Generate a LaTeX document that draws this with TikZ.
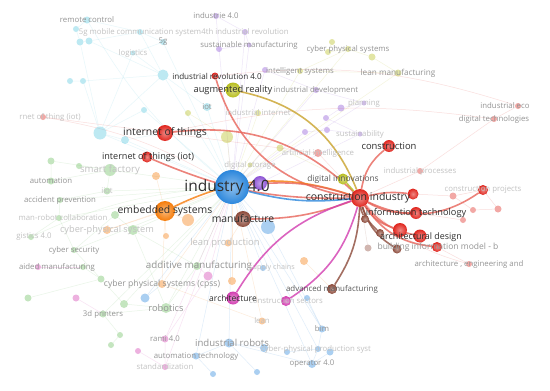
\documentclass[tikz,border=0pt]{standalone}
\usepackage{fontspec}
\setmainfont{Open Sans}
\usetikzlibrary{backgrounds}
\definecolor{vred}{HTML}{E0261E}
\definecolor{vredl}{HTML}{E8645A}
\definecolor{vblue}{HTML}{2C87DC}
\definecolor{vbluel}{HTML}{8DB8E0}
\definecolor{vpurple}{HTML}{8E55D6}
\definecolor{vorange}{HTML}{F57C0A}
\definecolor{vbrown}{HTML}{8C4A3A}
\definecolor{vpink}{HTML}{D23CB0}
\definecolor{vpinkl}{HTML}{EDA3D8}
\definecolor{vgreen}{HTML}{6DBE5F}
\definecolor{vyellow}{HTML}{B8BE1E}
\definecolor{vgold}{HTML}{C9A22A}
\definecolor{vcyan}{HTML}{5CC8E0}
\tikzset{
  kw/.style 2 args={circle, inner sep=0pt, minimum size=#2, fill=#1},
  kwf/.style 2 args={circle, inner sep=0pt, minimum size=#2, fill=#1, fill opacity=0.4},
  hub/.style 2 args={circle, inner sep=0pt, minimum size=#2, inner color=#1!55!white, outer color=#1},
  tx/.style={font=\fontsize{#1}{#1}\selectfont},
  lbldark/.style={text=black!82, inner sep=0pt},
  lblmid/.style={text=black!42, inner sep=0pt},
  lbllight/.style={text=black!24, inner sep=0pt},
  hot/.style={draw=#1, line width=1.6pt, draw opacity=0.8},
  web/.style={draw=#1, line width=0.5pt, draw opacity=0.15}
}
\begin{document}
\begin{tikzpicture}[x=1pt, y=-1pt]
\useasboundingbox (0,0) rectangle (550,391);

%% cyan cluster
\node[kwf={vcyan}{7}] (remc) at (87,20) {};
\node[kwf={vcyan}{6}] (cy1) at (76,29) {};
\node[kwf={vcyan}{7}] (cy2) at (80,42) {};
\node[kwf={vcyan}{7}] (cy3) at (89,41) {};
\node[kwf={vcyan}{6}] (mob5g) at (140,32) {};
\node[kwf={vcyan}{6}] (g5) at (163,42) {};
\node[kwf={vcyan}{5}] (logis) at (133,53) {};
\node[kwf={vcyan}{11}] (cy4) at (163,75) {};
\node[kwf={vcyan}{6}] (cy5) at (70,81) {};
\node[kwf={vcyan}{6}] (cy6) at (83,81) {};
\node[kwf={vcyan}{8}] (iotc) at (207,107) {};
\node[kwf={vcyan}{6}] (cy7) at (144,110) {};
\node[kwf={vcyan}{13}] (cy8) at (100,133) {};
\node[kwf={vcyan}{8}] (cy9) at (125,140) {};

%% purple cluster
\node[kwf={vpurple}{6}] (ie40) at (216,16) {};
\node[kwf={vpurple}{6}] (rev4) at (245,32) {};
\node[kwf={vpurple}{5}] (susm) at (249,45) {};
\node[kwf={vpurple}{6}] (pu1) at (219,49) {};
\node[kwf={vpurple}{6}] (pu2) at (265,70) {};
\node[kwf={vpurple}{6}] (inddev) at (316,90) {};
\node[kwf={vpurple}{5}] (plan) at (364,103) {};
\node[kwf={vpurple}{7}] (pu3) at (341,108) {};
\node[kwf={vpurple}{6}] (pu4) at (326,118) {};
\node[kwf={vpurple}{6}] (pu5) at (305,132) {};
\node[kwf={vpurple}{6}] (pu6) at (327,130) {};
\node[kwf={vpurple}{5}] (sust) at (360,134) {};

%% yellow cluster
\node[kwf={vyellow}{6}] (ye1) at (332,42) {};
\node[kwf={vyellow}{6}] (ye2) at (328,52) {};
\node[kwf={vyellow}{6}] (cpsy) at (348,49) {};
\node[kwf={vyellow}{7}] (ye3) at (372,57) {};
\node[kwf={vyellow}{6}] (intsys) at (300,71) {};
\node[kwf={vyellow}{7}] (leanm) at (398,73) {};
\node[kwf={vyellow}{6}] (indint) at (258,113) {};
\node[kwf={vyellow}{6}] (ye4) at (188,113) {};
\node[kwf={vyellow}{12}] (ye5) at (227,137) {};
\node[kwf={vyellow}{7}] (ye6) at (280,148) {};
\node[kwf={vyellow}{5}] (digsto) at (250,165) {};

%% green cluster
\node[kwf={vgreen}{12}] (smartf) at (110,170) {};
\node[kwf={vgreen}{7}] (gr1) at (51,161) {};
\node[kwf={vgreen}{6}] (gr2) at (79,166) {};
\node[kwf={vgreen}{7}] (autom) at (51,181) {};
\node[kwf={vgreen}{7}] (iiot) at (107,191) {};
\node[kwf={vgreen}{6}] (accp) at (60,200) {};
\node[kwf={vgreen}{6}] (hrc) at (59,218) {};
\node[kwf={vgreen}{8}] (gr3) at (115,215) {};
\node[kwf={vgreen}{10}] (gr4) at (133,230) {};
\node[kwf={vgreen}{6}] (log40) at (31,237) {};
\node[kwf={vgreen}{6}] (cybsec) at (74,250) {};
\node[kwf={vgreen}{6}] (gr5) at (83,267) {};
\node[kwf={vgreen}{8}] (addm) at (197,266) {};
\node[kwf={vgreen}{7}] (gr6) at (101,279) {};
\node[kwf={vgreen}{7}] (gr7) at (28,298) {};
\node[kwf={vgreen}{8}] (gr8) at (124,304) {};
\node[kwf={vgreen}{10}] (robo) at (166,308) {};
\node[kwf={vgreen}{7}] (print3d) at (103,314) {};
\node[kwf={vgreen}{6}] (gr9) at (120,335) {};
\node[kwf={vgreen}{6}] (gr10) at (111,345) {};

%% orange cluster
\node[kwf={vorange}{8}] (cpsys) at (107,230) {};
\node[kwf={vorange}{12}] (or1) at (188,220) {};
\node[kwf={vorange}{8}] (or2) at (156,176) {};
\node[kwf={vorange}{6}] (or3) at (166,236) {};
\node[kwf={vorange}{8}] (cpss) at (162,284) {};
\node[kwf={vorange}{7}] (leanp) at (228,243) {};
\node[kwf={vorange}{8}] (or4) at (232,281) {};
\node[kwf={vorange}{8}] (or5) at (304,261) {};
\node[kwf={vorange}{7}] (lean) at (262,321) {};

%% pink cluster
\node[kwf={vpink}{6}] (aidm) at (38,267) {};
\node[kwf={vpink}{9}] (pk1) at (208,276) {};
\node[kwf={vpink}{7}] (pk2) at (76,298) {};
\node[kwf={vpink}{7}] (rami) at (165,339) {};
\node[kwf={vpink}{6}] (pk3) at (138,351) {};
\node[kwf={vpink}{6}] (stand) at (165,367) {};

%% blue cluster
\node[kwf={vblue}{14}] (bl1) at (268,227) {};
\node[kwf={vblue}{9}] (bl2) at (145,298) {};
\node[kwf={vblue}{6}] (bl3) at (307,298) {};
\node[kwf={vblue}{6}] (supch) at (263,268) {};
\node[kwf={vblue}{9}] (indrob) at (229,343) {};
\node[kwf={vblue}{8}] (bl4) at (264,348) {};
\node[kwf={vblue}{7}] (autech) at (196,356) {};
\node[kwf={vblue}{6}] (bl5) at (213,374) {};
\node[kwf={vblue}{6}] (bl6) at (257,372) {};
\node[kwf={vblue}{7}] (bim) at (322,329) {};
\node[kwf={vblue}{6}] (cpps) at (318,349) {};
\node[kwf={vblue}{7}] (bl7) at (330,352) {};
\node[kwf={vblue}{6}] (bl8) at (287,352) {};
\node[kwf={vblue}{8}] (op40) at (312,364) {};

%% red cluster, faint part
\node[kwf={vred}{6}] (rnet) at (43,117) {};
\node[kwf={vred}{8}] (artint) at (318,153) {};
\node[kwf={vred}{6}] (indpro) at (420,171) {};
\node[kwf={vred}{6}] (digtec) at (494,119) {};
\node[kwf={vred}{6}] (indeco) at (518,106) {};
\node[kwf={vred}{7}] (rl1) at (453,196) {};
\node[kwf={vred}{6}] (rl2) at (473,210) {};
\node[kwf={vred}{7}] (rl3) at (498,209) {};
\node[kwf={vred}{6}] (rl4) at (463,220) {};
\node[kwf={vred}{6}] (aeng) at (469,264) {};
\node[kwf={vbrown}{7}] (br4) at (368,248) {};

%% highlighted keywords
\node[hub={vred}{16}] (iott) at (165,133) {};
\node[hub={vred}{11}] (iotiot) at (147,157) {};
\node[hub={vred}{7}] (ir40) at (215,76) {};
\node[hub={vyellow}{15}] (augr) at (233,90) {};
\node[hub={vorange}{20}] (emb) at (165,211) {};
\node[hub={vblue}{34}] (ind40) at (232,187) {};
\node[hub={vpurple}{14}] (pu7) at (260,183) {};
\node[hub={vbrown}{16}] (manu) at (243,219) {};
\node[hub={vyellow}{11}] (diginn) at (343,179) {};
\node[hub={vred}{12}] (constr) at (389,146) {};
\node[hub={vred}{18}] (ci) at (360,198) {};
\node[hub={vred}{11}] (rd1) at (413,194) {};
\node[hub={vred}{10}] (cproj) at (483,190) {};
\node[hub={vred}{12}] (infot) at (416,213) {};
\node[hub={vred}{14}] (rd2) at (400,230) {};
\node[hub={vred}{13}] (archd) at (420,236) {};
\node[hub={vred}{10}] (bimb) at (437,247) {};
\node[hub={vbrown}{8}] (br1) at (365,219) {};
\node[hub={vbrown}{8}] (br2) at (380,233) {};
\node[hub={vbrown}{9}] (br3) at (397,249) {};
\node[hub={vbrown}{10}] (advm) at (332,289) {};
\node[hub={vpink}{13}] (arch) at (233,298) {};
\node[hub={vpink}{10}] (consec) at (286,301) {};

\begin{scope}[on background layer]
\fill[white] (0,0) rectangle (550,391);

% background links
\draw[web=vcyan] (remc) -- (cy1) -- (cy2) -- (cy3) -- (mob5g) -- (g5);
\draw[web=vcyan] (remc) -- (mob5g);
\draw[web=vcyan] (g5) -- (logis) -- (cy4) -- (iotc);
\draw[web=vcyan] (cy3) -- (cy4) -- (cy8) -- (cy9) -- (iott);
\draw[web=vcyan] (cy7) -- (cy8) -- (cy6) -- (cy5);
\draw[web=vcyan] (cy2) -- (cy8);
\draw[web=vcyan] (cy6) -- (cy4);
\draw[web=vcyan] (mob5g) -- (cy4);
\draw[web=vcyan] (logis) -- (cy8);
\draw[web=vcyan] (iotc) -- (ind40);
\draw[web=vcyan] (cy4) -- (ind40);
\draw[web=vcyan] (cy8) -- (ind40);
\draw[web=vcyan] (cy9) -- (ind40);
\draw[web=vcyan] (cy7) -- (ind40);
\draw[web=vcyan] (remc) to[bend right=10] (ind40);
\draw[web=vcyan] (g5) -- (ind40);
\draw[web=vgreen] (smartf) -- (gr1) -- (autom) -- (smartf) -- (gr2);
\draw[web=vgreen] (smartf) -- (iiot) -- (accp) -- (hrc) -- (log40);
\draw[web=vgreen] (hrc) -- (cybsec) -- (gr3) -- (gr4) -- (addm) -- (robo);
\draw[web=vgreen] (robo) -- (print3d) -- (gr9) -- (gr10);
\draw[web=vgreen] (robo) -- (gr8) -- (gr6) -- (cybsec);
\draw[web=vgreen] (gr4) -- (robo);
\draw[web=vgreen] (gr5) -- (gr6);
\draw[web=vgreen] (gr7) -- (gr6);
\draw[web=vgreen] (smartf) -- (ind40);
\draw[web=vgreen] (iiot) -- (ind40);
\draw[web=vgreen] (accp) -- (ind40);
\draw[web=vgreen] (hrc) -- (ind40);
\draw[web=vgreen] (cybsec) -- (ind40);
\draw[web=vgreen] (robo) -- (ind40);
\draw[web=vgreen] (addm) -- (ind40);
\draw[web=vgreen] (gr4) -- (ind40);
\draw[web=vgreen] (log40) to[bend left=10] (ind40);
\draw[web=vgreen] (print3d) -- (ind40);
\draw[web=vgreen] (gr8) -- (ind40);
\draw[web=vpurple] (ie40) -- (rev4) -- (susm) -- (pu1);
\draw[web=vpurple] (pu2) -- (inddev) -- (plan) -- (pu3) -- (pu4) -- (sust);
\draw[web=vpurple] (pu5) -- (pu6) -- (sust) -- (pu7);
\draw[web=vpurple] (rev4) -- (ind40);
\draw[web=vpurple] (ie40) -- (ind40);
\draw[web=vpurple] (susm) -- (ind40);
\draw[web=vpurple] (pu2) -- (ind40);
\draw[web=vpurple] (inddev) -- (ind40);
\draw[web=vpurple] (plan) -- (ind40);
\draw[web=vpurple] (pu5) -- (ind40);
\draw[web=vyellow] (ye1) -- (ye2) -- (cpsy) -- (ye3);
\draw[web=vyellow] (cpsy) -- (intsys) -- (leanm) -- (ye3);
\draw[web=vyellow] (intsys) -- (ind40);
\draw[web=vyellow] (cpsy) -- (ind40);
\draw[web=vyellow] (leanm) -- (ind40);
\draw[web=vyellow] (ye4) -- (ye5) -- (ind40);
\draw[web=vyellow] (indint) -- (ind40);
\draw[web=vyellow] (ye6) -- (diginn);
\draw[web=vyellow] (ye6) -- (ind40);
\draw[web=vblue] (ind40) -- (indrob) -- (autech) -- (bl5);
\draw[web=vblue] (indrob) -- (bl4);
\draw[web=vblue] (bim) -- (cpps) -- (op40) -- (bl7);
\draw[web=vblue] (ind40) -- (bl1) -- (bim);
\draw[web=vblue] (bl2) -- (cpss);
\draw[web=vblue] (bl3) -- (bim);
\draw[web=vblue] (indrob) -- (op40);
\draw[web=vblue] (bl8) -- (cpps);
\draw[web=vblue] (bl6) -- (indrob);
\draw[web=vblue] (ind40) -- (bl2);
\draw[web=vblue] (ind40) -- (op40);
\draw[web=vblue] (ind40) -- (cpps);
\draw[web=vblue] (ind40) -- (bim);
\draw[web=vblue] (ind40) -- (autech);
\draw[web=vblue] (ind40) -- (supch);
\draw[web=vorange] (emb) -- (or1);
\draw[web=vorange] (emb) -- (cpsys);
\draw[web=vorange] (emb) -- (cpss) -- (lean);
\draw[web=vorange] (emb) -- (or2);
\draw[web=vorange] (emb) -- (or3);
\draw[web=vorange] (leanp) -- (manu);
\draw[web=vorange] (or4) -- (ind40);
\draw[web=vorange] (or5) -- (advm);
\draw[web=vorange] (lean) -- (ind40);
\draw[web=vorange] (cpss) -- (ind40);
\draw[web=vorange] (cpsys) -- (ind40);
\draw[web=vpink] (rami) -- (stand) -- (pk3);
\draw[web=vpink] (rami) -- (pk1) -- (addm);
\draw[web=vpink] (pk2) -- (print3d);
\draw[web=vpink] (aidm) -- (gr5);
\draw[web=vpink] (rami) -- (ind40);
\draw[web=vpink] (stand) -- (ind40);
\draw[web=vpink] (pk1) -- (ind40);
\draw[web=vred] (ci) -- (artint) -- (iott);
\draw[web=vred] (ci) -- (indpro) -- (digtec) -- (indeco);
\draw[web=vred] (indeco) to[bend right=12] (ir40);
\draw[web=vred] (digtec) to[bend right=10] (iott);
\draw[web=vred] (rnet) -- (iott);
\draw[web=vred] (rnet) to[bend left=10] (ind40);
\draw[web=vred] (ci) to[bend right=15] (aeng);
\draw[web=vred] (aeng) -- (bimb);
\draw[web=vred] (cproj) -- (rl1) -- (rl2) -- (rl3) -- (cproj);
\draw[web=vred] (rl4) -- (infot);
\draw[web=vred] (rl1) -- (rd1);
\draw[web=vbrown] (br4) -- (ci);

% links of construction industry
\draw[hot=vredl] (iott) to[bend left=25] (ci);
\draw[hot=vredl] (iotiot) to[bend right=12] (ci);
\draw[hot=vredl] (ir40) to[bend right=32] (ci);
\draw[hot=vgold] (augr) to[bend left=28] (ci);
\draw[hot=vorange] (emb) to[bend left=22] (ci);
\draw[hot=vredl] (ind40) to[bend left=12] (ci);
\draw[hot=vblue] (ind40) to[bend right=10] (ci);
\draw[hot=vredl] (manu) to[bend right=10] (ci);
\draw[hot=vyellow] (diginn) -- (ci);
\draw[hot=vpink] (arch) to[bend left=20] (ci);
\draw[hot=vpink] (ci) to[bend left=20] (consec);
\draw[hot=vbrown] (ci) to[bend left=15] (advm);
\draw[hot=vredl] (ci) to[bend left=20] (constr);
\draw[hot=vredl] (ci) to[bend right=30] (cproj);
\draw[hot=vredl] (ci) to[bend left=10] (rd1);
\draw[hot=vredl] (ci) to[bend right=15] (infot);
\draw[hot=vredl] (ci) to[bend right=20] (rd2);
\draw[hot=vredl] (ci) to[bend right=20] (archd);
\draw[hot=vredl] (ci) to[bend right=25] (bimb);
\draw[hot=vbrown] (ci) to[bend right=10] (br1);
\draw[hot=vbrown] (ci) to[bend right=15] (br2);
\draw[hot=vbrown] (ci) to[bend right=20] (br3);
\end{scope}

%% labels
\node[lblmid, tx=7.8] (remc-t) at (remc) {remote control};
\node[lbllight, tx=7.8] (mob5g-t) at (mob5g) {5g mobile communication system};
\node[lblmid, tx=7.8] (g5-t) at (g5) {5g};
\node[lbllight, tx=7.8] (logis-t) at (logis) {logistics};
\node[lblmid, tx=7.8] (iotc-t) at (iotc) {iot};
\node[lbllight, tx=7.8] (rnet-t) at (50,117) {rnet of thing (iot)};
\node[lblmid, tx=7.8] (ie40-t) at (ie40) {industrie 4.0};
\node[lbllight, tx=7.8] (rev4-t) at (rev4) {4th industrial revolution};
\node[lblmid, tx=7.8] (susm-t) at (susm) {sustainable manufacturing};
\node[lblmid, tx=7.8] (cpsy-t) at (cpsy) {cyber physical systems};
\node[lblmid, tx=7.8] (intsys-t) at (intsys) {intelligent systems};
\node[lblmid, tx=8.2] (leanm-t) at (leanm) {lean manufacturing};
\node[lblmid, tx=7.8] (inddev-t) at (inddev) {industrial development};
\node[lbllight, tx=7.8] (plan-t) at (plan) {planning};
\node[lbllight, tx=7.8] (indint-t) at (indint) {industrial internet};
\node[lbllight, tx=7.8] (sust-t) at (sust) {sustainability};
\node[lbllight, tx=7.8] (artint-t) at (artint) {artificial intelligence};
\node[lbllight, tx=7.8] (digsto-t) at (digsto) {digital storage};
\node[lbllight, tx=7.8] (indpro-t) at (indpro) {industrial processes};
\node[lblmid, tx=7.8] (indeco-t) at (505,106) {industrial eco};
\node[lblmid, tx=7.8] (digtec-t) at (digtec) {digital technologies};
\node[lbllight, tx=7.8] (cproj-t) at (cproj) {construction projects};
\node[lblmid, tx=7.8] (aeng-t) at (aeng) {architecture , engineering and};
\node[lbllight, tx=9.6] (smartf-t) at (smartf) {smart factory};
\node[lblmid, tx=7.8] (autom-t) at (autom) {automation};
\node[lbllight, tx=7.8] (iiot-t) at (iiot) {iiot};
\node[lblmid, tx=7.8] (accp-t) at (accp) {accident prevention};
\node[lbllight, tx=7.8] (hrc-t) at (63,218) {man-robot collaboration};
\node[lbllight, tx=9.2] (cpsys-t) at (cpsys) {cyber-physical system};
\node[lbllight, tx=7.8] (log40-t) at (34,237) {gistics 4.0};
\node[lblmid, tx=7.8] (cybsec-t) at (cybsec) {cyber security};
\node[lbllight, tx=9.4] (leanp-t) at (225,243) {lean production};
\node[lblmid, tx=7.8] (aidm-t) at (57,267) {aided manufacturing};
\node[lblmid, tx=9.8] (addm-t) at (199,266) {additive manufacturing};
\node[lblmid, tx=8.6] (cpss-t) at (cpss) {cyber physical systems (cpss)};
\node[lblmid, tx=9.3] (robo-t) at (robo) {robotics};
\node[lblmid, tx=7.8] (print3d-t) at (print3d) {3d printers};
\node[lbllight, tx=7.8] (lean-t) at (lean) {lean};
\node[lblmid, tx=7.8] (rami-t) at (rami) {rami 4.0};
\node[lblmid, tx=9.6] (indrob-t) at (232,343) {industrial robots};
\node[lblmid, tx=7.8] (autech-t) at (autech) {automation technology};
\node[lbllight, tx=7.8] (stand-t) at (stand) {standardization};
\node[lbllight, tx=7.2] (supch-t) at (272,268) {supply chains};
\node[lbllight, tx=7.8] (consec-t) at (consec) {construction sectors};
\node[lblmid, tx=7.8] (bim-t) at (bim) {bim};
\node[lbllight, tx=7.8] (cpps-t) at (316,349) {cyber-physical production syst};
\node[lblmid, tx=7.8] (op40-t) at (op40) {operator 4.0};
\node[lbldark, tx=8.1] (ir40-t) at (217,76) {industrial revolution 4.0};
\node[lbldark, tx=9.3] (augr-t) at (augr) {augmented reality};
\node[lbldark, tx=10.4] (iott-t) at (iott) {internet of things};
\node[lbldark, tx=9.1] (iotiot-t) at (148,157) {internet of things (iot)};
\node[lbldark, tx=10.4] (emb-t) at (emb) {embedded systems};
\node[lbldark, tx=15.5] (ind40-t) at (227,187) {industry 4.0};
\node[lbldark, tx=10.4] (manu-t) at (manu) {manufacture};
\node[lbldark, tx=8.4, text=black!65] (diginn-t) at (diginn) {digital innovations};
\node[lbldark, tx=9.4] (constr-t) at (constr) {construction};
\node[lbldark, tx=10.5] (ci-t) at (358,198) {construction industry};
\node[lbldark, tx=9.2] (infot-t) at (infot) {information technology};
\node[lbldark, tx=8.9] (archd-t) at (421,237) {architectural design};
\node[lblmid, tx=8.5] (bimb-t) at (438,247) {building information model - b};
\node[lbldark, tx=7.9, text=black!65] (advm-t) at (advm) {advanced manufacturing};
\node[lbldark, tx=8.5] (arch-t) at (arch) {architecture};
\end{tikzpicture}
\end{document}
